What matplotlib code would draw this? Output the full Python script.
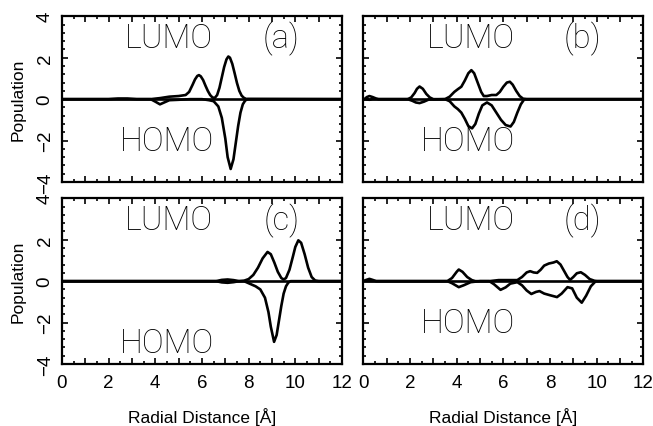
import matplotlib
matplotlib.use('Agg')
import matplotlib.pyplot as plt
from matplotlib.ticker import MultipleLocator, FuncFormatter

# panel (a)
r_lumo_a = [0, 2.0, 2.4, 2.8, 3.2, 3.8, 4.2, 4.6, 5.0, 5.3, 5.45, 5.6, 5.7, 5.8,
            5.87, 5.95, 6.05, 6.15, 6.25, 6.35, 6.45, 6.55, 6.65, 6.75, 6.85,
            6.95, 7.05, 7.13, 7.2, 7.3, 7.4, 7.5, 7.6, 7.7, 7.8, 7.9, 12]
lumo_a = [0, 0, 0.03, 0.03, 0, 0, 0.05, 0.12, 0.15, 0.2, 0.35, 0.7, 0.95, 1.12,
          1.16, 1.1, 0.92, 0.65, 0.4, 0.2, 0.08, 0.06, 0.2, 0.55, 1.05,
          1.55, 1.92, 2.06, 2.0, 1.7, 1.25, 0.78, 0.4, 0.17, 0.06, 0.01, 0]
r_homo_a = [0, 3.8, 4.0, 4.2, 4.4, 4.6, 5.0, 5.5, 6.0, 6.3, 6.5, 6.7, 6.85,
            7.0, 7.1, 7.23, 7.35, 7.45, 7.55, 7.65, 7.75, 7.85, 7.95, 12]
homo_a = [0, 0, -0.12, -0.25, -0.15, -0.05, -0.03, 0, 0, -0.05, -0.1, -0.35, -0.9,
          -1.9, -2.8, -3.37, -2.9, -2.1, -1.3, -0.65, -0.25, -0.07, 0, 0]

# panel (b)
r_lumo_b = [0, 0.05, 0.15, 0.26, 0.4, 0.55, 0.65, 1.9, 2.05, 2.2, 2.3, 2.41, 2.55,
            2.7, 2.85, 3.0, 3.5, 3.7, 3.9, 4.05, 4.2, 4.35, 4.5, 4.63, 4.75, 4.9,
            5.05, 5.16, 5.3, 5.5, 5.7, 5.85, 6.0, 6.15, 6.28, 6.4, 6.55, 6.7,
            6.85, 7.0, 12]
lumo_b = [0, 0, 0.1, 0.15, 0.1, 0.03, 0, 0, 0.08, 0.3, 0.5, 0.61, 0.5,
          0.25, 0.08, 0, 0, 0.12, 0.35, 0.48, 0.6, 0.9, 1.25, 1.4, 1.25, 0.8,
          0.35, 0.15, 0.15, 0.2, 0.2, 0.35, 0.6, 0.8, 0.84, 0.7, 0.4, 0.15,
          0.02, 0, 0]
r_homo_b = [0, 0.15, 0.26, 0.4, 1.9, 2.1, 2.25, 2.41, 2.6, 2.8, 3.5, 3.7, 3.9,
            4.05, 4.2, 4.35, 4.5, 4.66, 4.8, 4.95, 5.1, 5.3, 5.5, 5.7, 5.9, 6.1,
            6.31, 6.45, 6.6, 6.75, 6.9, 12]
homo_b = [0, -0.02, -0.03, 0, 0, -0.08, -0.16, -0.19, -0.12, -0.02, 0, -0.1, -0.35,
          -0.48, -0.65, -0.95, -1.3, -1.41, -1.2, -0.7, -0.3, -0.16, -0.3, -0.65,
          -1.0, -1.25, -1.32, -1.1, -0.65, -0.25, 0, 0]

# panel (c)
r_lumo_c = [0, 6.6, 6.85, 7.1, 7.35, 7.6, 7.8, 8.0, 8.2, 8.4, 8.6, 8.81, 8.95,
            9.1, 9.25, 9.4, 9.5, 9.6, 9.75, 9.9, 10.0, 10.13, 10.25, 10.4,
            10.55, 10.7, 10.85, 11.0, 12]
lumo_c = [0, 0, 0.06, 0.08, 0.05, 0, 0.02, 0.1, 0.3, 0.65, 1.1, 1.41, 1.3,
          0.9, 0.45, 0.15, 0.08, 0.15, 0.55, 1.2, 1.65, 1.97, 1.85, 1.3,
          0.65, 0.2, 0.03, 0, 0]
r_homo_c = [0, 6.6, 6.85, 7.1, 7.35, 7.6, 7.8, 8.0, 8.3, 8.5, 8.7, 8.85, 8.95,
            9.09, 9.2, 9.3, 9.4, 9.5, 9.6, 9.7, 9.8, 12]
homo_c = [0, 0, -0.06, -0.08, -0.05, 0, 0, -0.1, -0.25, -0.4, -0.8, -1.5, -2.2,
          -2.93, -2.6, -1.9, -1.2, -0.6, -0.25, -0.07, 0, 0]

# panel (d)
r_lumo_d = [0, 0.1, 0.26, 0.4, 0.55, 3.6, 3.8, 4.0, 4.09, 4.25, 4.45, 4.65, 4.8,
            5.4, 5.8, 6.2, 6.6, 6.8, 7.0, 7.15, 7.3, 7.45, 7.6, 7.75, 7.95,
            8.15, 8.29, 8.45, 8.6, 8.75, 8.86, 9.0, 9.15, 9.32, 9.5, 9.7, 9.9,
            10.0, 12]
lumo_d = [0, 0.05, 0.11, 0.06, 0, 0, 0.15, 0.45, 0.56, 0.45, 0.2, 0.05, 0,
          0, 0.05, 0.05, 0.05, 0.2, 0.42, 0.48, 0.42, 0.4, 0.55, 0.75, 0.85,
          0.9, 0.96, 0.8, 0.5, 0.2, 0.06, 0.2, 0.38, 0.43, 0.3, 0.1, 0.02,
          0, 0]
r_homo_d = [0, 3.6, 3.8, 4.09, 4.3, 4.6, 5.0, 5.4, 5.6, 5.88, 6.1, 6.3, 6.6, 6.8,
            7.0, 7.2, 7.4, 7.55, 7.75, 8.0, 8.3, 8.5, 8.75, 8.95, 9.15, 9.36,
            9.55, 9.75, 9.96, 12]
homo_d = [0, 0, -0.1, -0.29, -0.2, -0.05, 0, 0, -0.15, -0.42, -0.3, -0.12, -0.05, -0.2,
          -0.45, -0.62, -0.52, -0.48, -0.6, -0.68, -0.77, -0.6, -0.29, -0.35, -0.8, -1.04,
          -0.7, -0.25, 0, 0]

panel_tags = ['(a)', '(b)', '(c)', '(d)']
homo_text_y = [-2.0, -2.0, -3.0, -2.0]


def style_axes(ax, bottom, left):
    ax.set_xlim(0, 12)
    ax.set_ylim(-4, 4)
    ax.xaxis.set_major_locator(MultipleLocator(1))
    ax.xaxis.set_minor_locator(MultipleLocator(0.5))
    ax.yaxis.set_major_locator(MultipleLocator(2))
    ax.yaxis.set_minor_locator(MultipleLocator(0.4))
    ax.xaxis.set_major_formatter(FuncFormatter(
        lambda v, p: '{:.0f}'.format(v) if round(v) % 2 == 0 else ''))
    ax.tick_params(which='both', direction='in', top=True, right=True,
                   width=1.2, labelsize=13.5)
    ax.tick_params(which='major', length=4.5)
    ax.tick_params(which='minor', length=2.3)
    ax.tick_params(axis='x', pad=7, labelbottom=bottom)
    ax.tick_params(axis='y', pad=6, labelleft=left, labelrotation=90)
    for lab in ax.get_yticklabels():
        lab.set_verticalalignment('center')
    for s in ax.spines.values():
        s.set_linewidth(1.6)
    if bottom:
        ax.set_xlabel('Radial Distance [Å]', fontsize=12.5, labelpad=12)
    if left:
        ax.set_ylabel('Population', fontsize=12.5, labelpad=8)


def main():
    plt.rcParams['font.family'] = ['Liberation Sans', 'DejaVu Sans']
    fig = plt.figure(figsize=(6.53, 4.27), dpi=100)
    lefts = [0.0949, 0.5564]
    bottoms = [0.5714, 0.1452]
    w = 0.4288
    h = 0.3881
    data = [(r_lumo_a, lumo_a, r_homo_a, homo_a),
            (r_lumo_b, lumo_b, r_homo_b, homo_b),
            (r_lumo_c, lumo_c, r_homo_c, homo_c),
            (r_lumo_d, lumo_d, r_homo_d, homo_d)]
    for i in range(4):
        row, col = divmod(i, 2)
        ax = fig.add_axes([lefts[col], bottoms[row], w, h])
        rl, l, rh, hm = data[i]
        ax.axhline(0, color='k', lw=1.9)
        ax.plot(rl, l, 'k', lw=1.9)
        ax.plot(rh, hm, 'k', lw=1.9)
        style_axes(ax, bottom=(row == 1), left=(col == 0))
        txt = dict(fontsize=23.5, fontweight='light', family=['Roboto', 'DejaVu Sans'],
                   ha='center', va='center', color='black')
        ax.text(4.6, 2.95, 'LUMO', **txt)
        ax.text(9.4, 2.95, panel_tags[i], **txt)
        ax.text(4.5, homo_text_y[i], 'HOMO', **txt)
    fig.savefig('out.png', dpi=100)


if __name__ == '__main__':
    main()
